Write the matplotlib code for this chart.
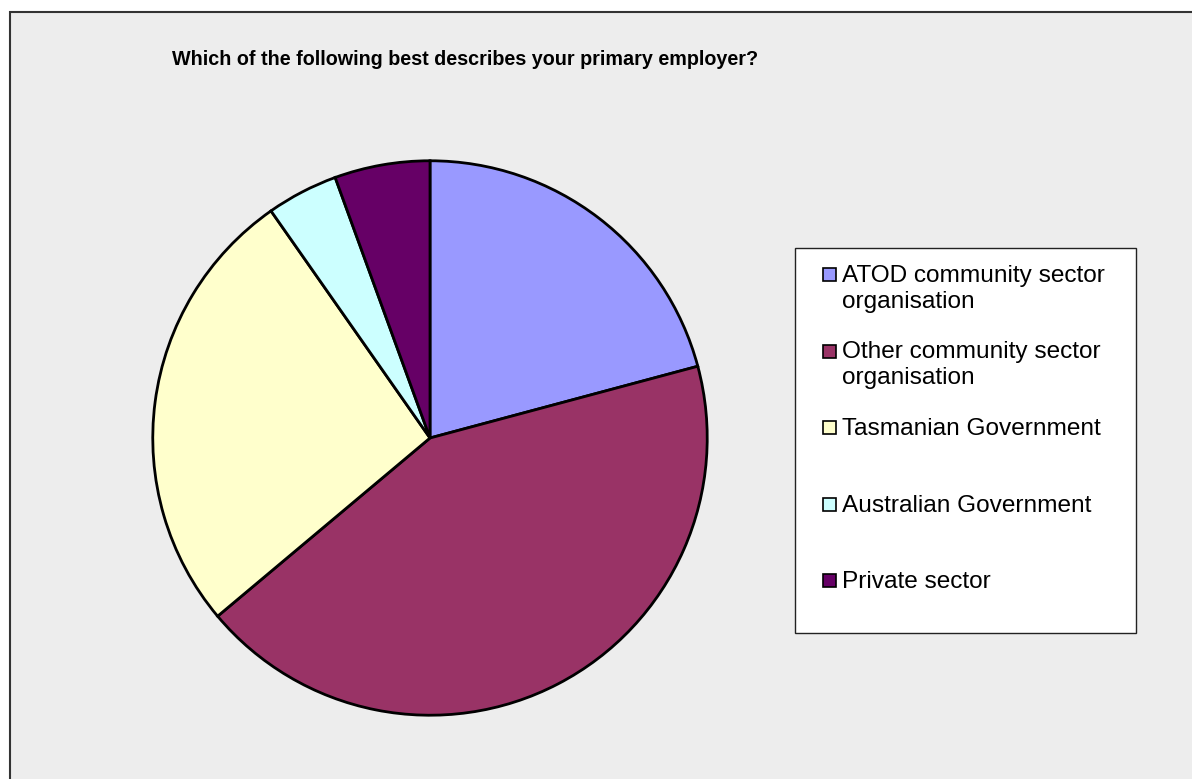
import matplotlib.pyplot as plt
from matplotlib.patches import Rectangle

plt.rcParams['font.family'] = ['Liberation Sans', 'DejaVu Sans']

# survey responses per employer type
labels = ['ATOD community sector\norganisation',
          'Other community sector\norganisation',
          'Tasmanian Government',
          'Australian Government',
          'Private sector']
counts = [15, 31, 19, 3, 4]
colors = ['#9999FF', '#993366', '#FFFFCC', '#CCFFFF', '#660066']

W, H = 1192, 779
fig = plt.figure(figsize=(W / 100, H / 100), dpi=100, facecolor='white')

def px(x, y):
    # pixel coords (top-left origin) -> figure fraction
    return x / W, 1 - y / H

# chart area frame
fig.patches.append(Rectangle(px(10, 790), (W + 10) / W, 778 / H, transform=fig.transFigure,
                             facecolor='#EDEDED', edgecolor='#333333', lw=1.5, zorder=0))

fig.text(*px(172, 65), 'Which of the following best describes your primary employer?',
         fontsize=14.2, fontweight='bold', ha='left', va='baseline')

# pie, centred at (430, 438) px
ax = fig.add_axes([150 / W, 1 - 718 / H, 560 / W, 560 / H])
ax.set_zorder(5)
ax.pie(counts, colors=colors, startangle=90, counterclock=False, radius=1,
       wedgeprops=dict(edgecolor='black', linewidth=2))
ax.set_xlim(-1.01, 1.01)
ax.set_ylim(-1.01, 1.01)
ax.set_aspect('auto')
ax.axis('off')

# legend box
x0, y0, x1, y1 = 795, 248, 1136, 633
fig.patches.append(Rectangle(px(x0, y1), (x1 - x0) / W, (y1 - y0) / H, transform=fig.transFigure,
                             facecolor='white', edgecolor='#222222', lw=1, zorder=1))
for i, (lab, c) in enumerate(zip(labels, colors)):
    base = 282 + 76.5 * i
    fig.patches.append(Rectangle(px(823, base - 1), 13 / W, 13 / H, transform=fig.transFigure,
                                 facecolor=c, edgecolor='black', lw=1.2, zorder=2))
    for k, line in enumerate(lab.split('\n')):
        fig.text(*px(842, base + 26 * k), line, fontsize=17.6, ha='left', va='baseline', zorder=3)

fig.savefig('out.png', dpi=100)
